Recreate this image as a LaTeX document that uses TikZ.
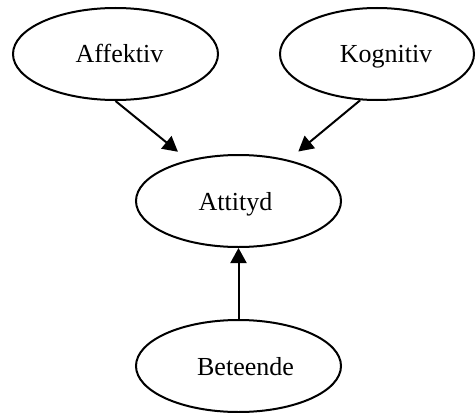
\documentclass[tikz,border=0pt]{standalone}
\usepackage{fontspec}
\setmainfont{Liberation Serif}
\usetikzlibrary{shapes.geometric,arrows.meta}
% shift a label sideways inside its ellipse (positive = right)
\newcommand{\nudged}[2]{%
  \ifdim#1pt>0pt\hspace*{#1pt}\hspace*{#1pt}#2\else#2\hspace*{-#1pt}\hspace*{-#1pt}\fi}
\begin{document}
\begin{tikzpicture}[x=1pt,y=-1pt,
  concept/.style={ellipse, draw, line width=2pt, inner sep=0pt,
    minimum width=205pt, minimum height=92pt,
    text height=18pt, text depth=0pt,
    font=\fontsize{26}{30}\selectfont},
  link/.style={line width=2pt, -{Triangle[width=16pt,length=15pt]}}]
  \useasboundingbox (0,0) rectangle (476,412);
  \node[concept] (aff) at (115.5,54) {\nudged{4}{Affektiv}};
  \node[concept, minimum width=194pt] (kog) at (377,54) {\nudged{9}{Kognitiv}};
  \node[concept] (att) at (238.5,201) {\nudged{-3}{Attityd}};
  \node[concept] (bet) at (238.5,366) {\nudged{7}{Beteende}};
  \draw[link, shorten >=13pt] (aff.south) -- (att);
  \draw[link, shorten >=13pt] (kog.250) -- (att);
  \draw[link] (bet.north) -- (att.south);
\end{tikzpicture}
\end{document}
